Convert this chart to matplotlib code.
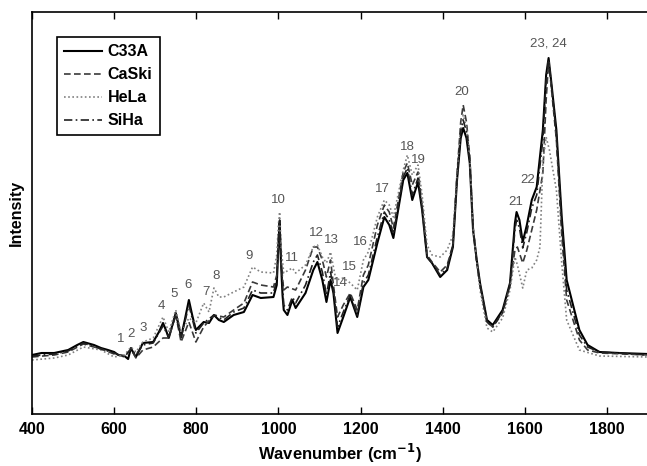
import matplotlib
matplotlib.use("Agg")
import matplotlib.pyplot as plt

plt.rcParams['font.family'] = ['Liberation Sans', 'DejaVu Sans']

# Raman spectra, intensity in arbitrary units
c33a_wn = [400, 423, 454, 488, 510, 525, 551, 568, 585, 600, 610, 625, 634, 641, 647, 653, 670, 695, 709, 719,
           726, 733, 750, 757, 763, 772, 782, 790, 799, 818, 831, 843, 855, 867, 891, 916, 937, 957, 988, 996,
           1000, 1003, 1006, 1010, 1013, 1022, 1034, 1042, 1066, 1085, 1095, 1107, 1117, 1127, 1134, 1144, 1158,
           1175, 1192, 1207, 1219, 1241, 1258, 1270, 1280, 1304, 1314, 1326, 1340, 1350, 1362, 1374, 1394, 1411,
           1425, 1435, 1444, 1450, 1458, 1466, 1474, 1483, 1491, 1508, 1522, 1546, 1564, 1576, 1580, 1587, 1595,
           1605, 1617, 1629, 1644, 1652, 1658, 1664, 1677, 1690, 1702, 1733, 1753, 1782, 1830, 1900]
c33a = [59, 61, 61, 64, 69, 72, 69, 66, 64, 62, 59, 58, 55, 66, 61, 57, 71, 72, 82, 91,
        84, 76, 101, 89, 77, 94, 114, 99, 84, 92, 91, 99, 94, 92, 99, 102, 119, 116, 117, 129,
        169, 192, 154, 119, 104, 99, 114, 106, 121, 144, 152, 134, 112, 134, 121, 81, 97,
        117, 97, 127, 134, 171, 197, 189, 176, 234, 241, 214, 232, 204, 157, 151, 137, 144,
        167, 234, 276, 286, 276, 251, 184, 154, 131, 94, 89, 104, 131, 191, 202, 194, 172,
        189, 214, 227, 284, 339, 356, 334, 284, 197, 134, 84, 69, 62, 61, 60]

caski_wn = [400, 454, 488, 525, 568, 600, 625, 641, 653, 670, 695, 719, 733, 750, 763, 782, 799, 818, 843, 867,
            891, 916, 937, 957, 988, 996, 1000, 1003, 1007, 1013, 1022, 1042, 1066, 1085, 1095, 1107, 1117, 1127,
            1134, 1144, 1158, 1175, 1192, 1207, 1219, 1241, 1258, 1270, 1280, 1304, 1314, 1326, 1340, 1350, 1362,
            1374, 1394, 1411, 1425, 1435, 1444, 1450, 1458, 1466, 1474, 1483, 1491, 1508, 1522, 1546, 1564, 1576,
            1582, 1595, 1605, 1617, 1629, 1644, 1652, 1658, 1664, 1677, 1690, 1702, 1733, 1753, 1782, 1900]
caski = [57, 59, 62, 70, 65, 60, 58, 65, 56, 64, 67, 76, 76, 99, 72, 92, 72, 87, 99, 97,
         104, 111, 132, 129, 127, 139, 174, 189, 149, 124, 127, 124, 144, 167, 167, 154, 137, 154,
         129, 97, 109, 121, 104, 139, 149, 189, 209, 202, 186, 242, 251, 229, 242, 209, 159,
         152, 142, 149, 169, 240, 292, 309, 292, 258, 188, 152, 129, 92, 87, 101, 129, 164,
         167, 151, 164, 184, 204, 241, 314, 352, 329, 274, 179, 114, 74, 64, 61, 59]

hela_wn = [400, 454, 488, 525, 568, 600, 625, 641, 653, 670, 695, 719, 733, 750, 763, 782, 799, 818, 831, 843,
           855, 867, 891, 916, 937, 957, 988, 996, 1000, 1003, 1007, 1013, 1034, 1042, 1066, 1085, 1095, 1107,
           1117, 1127, 1140, 1158, 1175, 1192, 1207, 1219, 1241, 1258, 1270, 1280, 1304, 1314, 1326, 1340, 1350,
           1362, 1374, 1394, 1411, 1425, 1435, 1444, 1450, 1458, 1466, 1474, 1483, 1491, 1508, 1522, 1546, 1564,
           1576, 1582, 1595, 1605, 1617, 1629, 1637, 1644, 1652, 1660, 1677, 1690, 1702, 1733, 1782, 1900]
hela = [54, 56, 59, 67, 64, 57, 59, 67, 62, 72, 76, 97, 82, 104, 81, 96, 91, 111, 102, 126,
        117, 117, 122, 127, 147, 142, 141, 159, 189, 202, 164, 141, 146, 141, 149, 167, 169, 157,
        151, 162, 134, 136, 131, 124, 154, 162, 197, 214, 209, 197, 244, 259, 239, 249, 219,
        169, 159, 157, 164, 179, 240, 284, 299, 286, 258, 186, 152, 124, 86, 82, 96, 124,
        157, 149, 126, 144, 146, 154, 167, 251, 277, 264, 224, 151, 94, 64, 58, 57]

siha_wn = [400, 454, 488, 525, 568, 600, 625, 641, 653, 670, 695, 709, 719, 733, 750, 763, 782, 799, 818, 843,
           867, 891, 916, 937, 957, 988, 996, 1000, 1003, 1007, 1013, 1022, 1034, 1042, 1066, 1085, 1095, 1107,
           1117, 1127, 1134, 1144, 1158, 1175, 1192, 1207, 1219, 1241, 1258, 1270, 1280, 1304, 1314, 1326, 1340,
           1350, 1362, 1374, 1394, 1411, 1425, 1435, 1444, 1450, 1458, 1466, 1474, 1483, 1491, 1508, 1522, 1546,
           1564, 1576, 1580, 1587, 1595, 1605, 1617, 1629, 1644, 1652, 1658, 1664, 1677, 1690, 1702, 1733, 1753,
           1782, 1900]
siha = [58, 60, 63, 71, 65, 61, 57, 65, 59, 69, 71, 81, 88, 77, 99, 76, 109, 81, 91, 99,
        94, 102, 106, 124, 121, 121, 134, 174, 194, 152, 109, 104, 117, 111, 129, 152, 159, 142,
        119, 142, 124, 87, 102, 119, 99, 131, 139, 177, 202, 194, 180, 237, 246, 219, 236,
        206, 157, 151, 139, 146, 169, 236, 282, 294, 282, 254, 186, 152, 129, 92, 87, 102,
        129, 184, 194, 186, 166, 182, 206, 219, 274, 334, 354, 332, 279, 189, 124, 79, 67,
        62, 59]

# peak labels
peak_names = ['1', '2', '3', '4', '5', '6', '7', '8', '9', '10', '11', '12', '13', '14', '15', '16',
              '17', '18', '19', '20', '21', '22', '23, 24']
peak_wn = [617, 641, 670, 714, 746, 780, 823, 848, 928, 1000, 1032, 1093, 1129, 1151, 1173, 1199,
           1253, 1314, 1340, 1447, 1578, 1607, 1658]
peak_int = [75, 80, 86, 108, 120, 129, 122, 138, 158, 214, 156, 181, 174, 131, 147, 172,
            225, 267, 254, 322, 212, 234, 371]

fig = plt.figure(figsize=(6.47, 4.66), dpi=100)
ax = fig.add_axes([0.0495, 0.1116, 0.952, 0.8626])

ax.plot(c33a_wn, c33a, color='black', linestyle='-', linewidth=1.5, label='C33A')
ax.plot(caski_wn, caski, color='#3a3a3a', linestyle=(0, (4, 2)), linewidth=1.2, label='CaSki')
ax.plot(hela_wn, hela, color='#808080', linestyle=(0, (1, 1.5)), linewidth=1.2, label='HeLa')
ax.plot(siha_wn, siha, color='#202020', linestyle=(0, (5, 2, 1, 2)), linewidth=1.2, label='SiHa')

for name, x, y in zip(peak_names, peak_wn, peak_int):
    ax.text(x, y, name, ha='center', va='center', fontsize=9.5, color='#555555')

ax.set_xlim(400, 1900)
ax.set_ylim(0, 402)
ax.set_xticks([400, 600, 800, 1000, 1200, 1400, 1600, 1800])
ax.set_yticks([])
ax.tick_params(axis='x', direction='in', top=True, length=5, width=1, labelsize=11.5, pad=6)
for lbl in ax.get_xticklabels():
    lbl.set_fontweight('bold')
for sp in ax.spines.values():
    sp.set_linewidth(1.2)

ax.set_xlabel('Wavenumber (cm$^{\\mathbf{-1}}$)', fontsize=12, fontweight='bold', labelpad=3)
ax.set_ylabel('Intensity', fontsize=11.5, fontweight='bold', labelpad=6)

leg = ax.legend(loc='upper left', bbox_to_anchor=(0.04, 0.938), borderaxespad=0,
                fancybox=False, edgecolor='black', framealpha=1, handlelength=2.4,
                handletextpad=0.35, labelspacing=0.5, borderpad=0.45,
                prop={'weight': 'bold', 'size': 11.5})
leg.get_frame().set_linewidth(1.2)

fig.savefig('out.png', dpi=100)
